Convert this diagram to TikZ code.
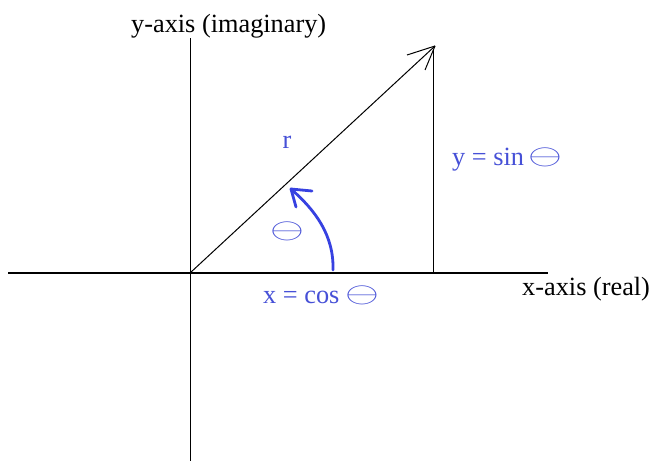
\documentclass[tikz,border=0pt]{standalone}
\usepackage{fontspec}
\usepackage{graphicx}
\setmainfont{Liberation Serif}
\definecolor{lblblue}{RGB}{70,80,215}
\definecolor{arcblue}{RGB}{55,65,225}
\newcommand{\thetaglyph}{\raisebox{0.02em}{\scalebox{1.75}[1.15]{$\ominus$}}}
\begin{document}
\begin{tikzpicture}[x=1pt,y=-1pt,
  axis/.style={line width=1.3pt,black},
  thinline/.style={line width=1pt,black},
  lbl/.style={inner sep=0pt,font=\fontsize{26.3}{30}\selectfont},
  bluelbl/.style={lbl,text=lblblue},
  arcarrow/.style={line width=2.8pt,arcblue,line cap=round,line join=round}]
\useasboundingbox (0,0) rectangle (652,461);
\fill[white] (0,0) rectangle (652,461);
% coordinates
\coordinate (O) at (190,273);
\coordinate (xl) at (8,273);
\coordinate (xr) at (548,273);
\coordinate (yt) at (190,38);
\coordinate (yb) at (190,461);
\coordinate (tip) at (435,46);
\coordinate (barbA) at (407,55);
\coordinate (barbB) at (425,70);
\coordinate (vtop) at (433,49);
\coordinate (vfoot) at (433,273);
\coordinate (arcS) at (333,270);
\coordinate (arcE) at (291,189);
\coordinate (arcB1) at (312,191);
\coordinate (arcB2) at (296,207);
% axes
\draw[axis] (xl) -- (xr);
\draw[thinline] (yt) -- (yb);
% vector and vertical
\draw[thinline] (O) -- (tip);
\draw[thinline] (tip) -- (barbA);
\draw[thinline] (tip) -- (barbB);
\draw[thinline] (vtop) -- (vfoot);
% curved arrow
\draw[arcarrow] (arcS) .. controls (334,235) and (315,210) .. (arcE);
\draw[arcarrow] (arcE) -- (arcB1);
\draw[arcarrow] (arcE) -- (arcB2);
% labels
\node[lbl,anchor=base west] (ylab) at (131,32) {y-axis (imaginary)};
\node[lbl,anchor=base west] (xlab) at (522,295) {x-axis (real)};
\node[bluelbl,anchor=base west] (ysin) at (452,165) {y = sin\,\thetaglyph};
\node[bluelbl,anchor=base west] (xcos) at (263,303) {x = cos \thetaglyph};
\node[bluelbl,anchor=base] (rlab) at (287,148) {r};
\node[bluelbl] (th) at (287,231) {\thetaglyph};
\end{tikzpicture}
\end{document}
